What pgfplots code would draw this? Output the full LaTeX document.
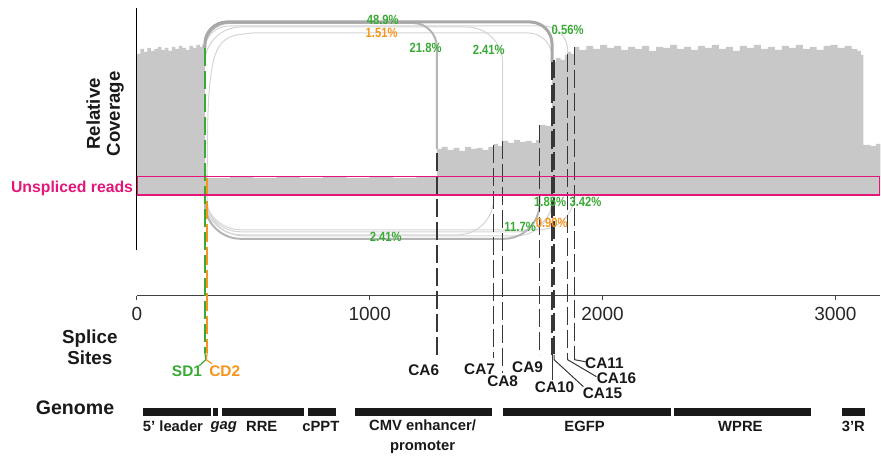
\documentclass[border=0pt]{standalone}
\usepackage{pgfplots}
\pgfplotsset{compat=1.18}
\usepackage{fontspec}
\setmainfont{Liberation Sans}
\definecolor{sdgreen}{RGB}{57,170,53}
\definecolor{cdorange}{RGB}{247,148,29}
\definecolor{pinkbox}{RGB}{228,22,122}
\definecolor{covgrey}{RGB}{200,200,200}
\definecolor{dashdark}{RGB}{55,55,55}
\definecolor{arcA}{RGB}{168,168,168}
\definecolor{arcB}{RGB}{180,180,180}
\definecolor{arcC}{RGB}{212,212,212}
\newcommand\pctf{\bfseries\fontsize{6.7}{8}\selectfont}
\newcommand\caf{\bfseries\fontsize{7.7}{9}\selectfont}
\newcommand\bigf{\bfseries\fontsize{9.3}{10}\selectfont}
\newcommand\genf{\bfseries\fontsize{7.4}{10}\selectfont}
\tikzset{lbl/.style={inner sep=0pt}, pct/.style={inner sep=0pt, xscale=0.84, font=\pctf}}
\begin{document}
\begin{tikzpicture}
\begin{axis}[
  scale only axis, width=372pt, height=148pt,
  xmin=0, xmax=3193, ymin=-101, ymax=195,
  axis x line=bottom, axis y line=none,
  axis line style={-, line width=0.7pt, black!75},
  xtick={0,1000,2000,3000}, ytick=\empty,
  tick align=outside, major tick length=2pt,
  tick style={black!75, line width=0.6pt},
  xticklabel style={font=\fontsize{9.5}{10}\selectfont, black!85},
  /pgf/number format/1000 sep={},
  /pgf/number format/assume math mode=true,
  clip=false,
]
\path (axis cs:-588,195) rectangle (axis cs:3193,-261);
% coverage
\addplot[const plot, fill=covgrey, draw=none] coordinates {
(0,0) (0,141) (15,146) (30,143) (45,147) (60,144) (75,146) (90,148) (105,145)
(120,147) (135,144) (150,148) (165,146) (180,149) (195,147) (210,145) (225,149)
(240,147) (255,150) (270,148) (280,150) (292,20)
(302,17) (400,18) (500,17) (600,18) (700,17) (800,18) (900,17) (1000,18) (1100,17) (1200,18)
(1288,46) (1310,48) (1335,45) (1360,47) (1385,44) (1410,48) (1435,46) (1460,47) (1485,45) (1510,48)
(1532,51) (1550,49)
(1571,54) (1595,52) (1620,55) (1645,53) (1670,54) (1695,52) (1715,55)
(1730,70) (1755,69)
(1783,133) (1800,137) (1820,135) (1838,140)
(1850,143) (1865,141) (1880,148) (1900,145) (1930,149) (1960,146) (1990,150) (2020,147)
(2050,149) (2080,145) (2110,148) (2140,146) (2170,149) (2200,144) (2230,148) (2260,147)
(2290,150) (2320,146) (2350,148) (2380,145) (2410,149) (2440,147) (2470,150) (2500,146)
(2530,148) (2560,144) (2590,149) (2620,147) (2650,150) (2680,146) (2710,148) (2740,145)
(2770,149) (2800,147) (2830,150) (2860,146) (2890,148) (2920,145) (2950,149) (2980,150)
(3010,147) (3040,149) (3070,146) (3095,144) (3110,140)
(3120,50) (3150,49) (3175,51) (3193,51) (3193,0)} -- cycle;
% upper arcs
\addplot[arcC, line width=0.5pt, rounded corners=12pt] coordinates {(292,147) (292,169) (1850,169) (1850,140)};
\addplot[arcC, line width=0.5pt, rounded corners=18pt] coordinates {(292,147) (292,168) (1571,168) (1571,54)};
\addplot[arcC, line width=0.5pt, smooth, tension=0.6] coordinates {(302,18) (305,80) (318,120) (345,145) (400,158) (500,162)};
\addplot[arcC, line width=0.5pt, rounded corners=12pt] coordinates {(500,162) (1783,162) (1783,133)};
\addplot[arcB, line width=1pt, rounded corners=12pt] coordinates {(292,147) (292,172) (1288,172) (1288,46)};
\addplot[arcA, line width=1.5pt, rounded corners=11pt] coordinates {(292,147) (292,173) (1783,173) (1783,133)};
% lower arcs
\addplot[arcC, line width=0.5pt, rounded corners=18pt] coordinates {(292,0) (292,-40) (1532,-40) (1532,0)};
\addplot[arcC, line width=0.5pt, rounded corners=18pt] coordinates {(302,0) (302,-41) (1783,-41) (1783,0)};
\addplot[arcC, line width=0.5pt, rounded corners=18pt] coordinates {(292,0) (292,-37) (1792,-37) (1792,0)};
\addplot[arcC, line width=0.5pt, rounded corners=18pt] coordinates {(292,0) (292,-35) (1880,-35) (1880,0)};
\addplot[arcB, line width=1pt, rounded corners=18pt] coordinates {(292,0) (292,-44) (1730,-44) (1730,0)};
% dashed splice-site lines
\pgfplotsset{dsh/.style={line width=0.75pt, dash pattern=on 9pt off 2.5pt}}
\addplot[sdgreen, dsh] coordinates {(292,147) (292,-158)};
\addplot[cdorange, dsh] coordinates {(302,17) (302,-158)};
\addplot[dashdark, dsh] coordinates {(1288,42) (1288,-160)};
\addplot[dashdark, dsh] coordinates {(1532,50) (1532,-163)};
\addplot[dashdark, dsh] coordinates {(1571,54) (1571,-178)};
\addplot[dashdark, dsh] coordinates {(1730,70) (1730,-160)};
\addplot[dashdark, dsh] coordinates {(1783,133) (1783,-160)};
\addplot[dashdark, dsh] coordinates {(1792,135) (1792,-160)};
\addplot[dashdark, dsh] coordinates {(1850,141) (1850,-163)};
\addplot[dashdark, dsh] coordinates {(1880,148) (1880,-163)};
% leader lines to labels
\addplot[sdgreen, line width=0.6pt] coordinates {(292,-158) (296,-165) (268,-171)};
\addplot[cdorange, line width=0.6pt] coordinates {(302,-158) (298,-165) (322,-169)};
\addplot[dashdark, line width=0.5pt] coordinates {(1783,-160) (1783,-185)};
\addplot[dashdark, line width=0.5pt] coordinates {(1792,-160) (1792,-165) (1918,-192)};
\addplot[dashdark, line width=0.5pt] coordinates {(1850,-163) (1850,-165) (1974,-182)};
\addplot[dashdark, line width=0.5pt] coordinates {(1880,-163) (1880,-165) (1927,-167)};
% unspliced box
\addplot[pinkbox, line width=0.8pt] coordinates {(0,18.5) (3189,18.5) (3189,0) (0,0)} -- cycle;
% genome bars
\pgfplotsset{gb/.style={black!90, line width=4pt}}
\addplot[gb] coordinates {(26,-217) (318,-217)};
\addplot[gb] coordinates {(326,-217) (348,-217)};
\addplot[gb] coordinates {(365,-217) (717,-217)};
\addplot[gb] coordinates {(734,-217) (854,-217)};
\addplot[gb] coordinates {(936,-217) (1524,-217)};
\addplot[gb] coordinates {(1571,-217) (2296,-217)};
\addplot[gb] coordinates {(2305,-217) (2897,-217)};
\addplot[gb] coordinates {(3030,-217) (3129,-217)};
% y axis line
\draw[black, line width=0.6pt] (axis cs:0,187) -- (axis cs:0,-55);
% percent labels
\node[pct, sdgreen] at (axis cs:1056,175) {48.9\%};
\node[pct, cdorange] at (axis cs:1051,162) {1.51\%};
\node[pct, sdgreen] at (axis cs:1240,147) {21.8\%};
\node[pct, sdgreen] at (axis cs:1511,145) {2.41\%};
\node[pct, sdgreen] at (axis cs:1850,165) {0.56\%};
\node[pct, sdgreen] at (axis cs:1069,-42) {2.41\%};
\node[pct, sdgreen] at (axis cs:1646,-32) {11.7\%};
\node[pct, sdgreen] at (axis cs:1775,-7) {1.85\%};
\node[pct, cdorange] at (axis cs:1782,-28) {0.90\%};
\node[pct, sdgreen] at (axis cs:1927,-7) {3.42\%};
% splice site labels
\node[lbl, sdgreen, font=\caf] at (axis cs:215,-176) {SD1};
\node[lbl, cdorange, font=\caf] at (axis cs:377,-176) {CD2};
\node[lbl, black!90, font=\caf] at (axis cs:1232,-175) {CA6};
\node[lbl, black!90, font=\caf] at (axis cs:1472,-174) {CA7};
\node[lbl, black!90, font=\caf] at (axis cs:1571,-187) {CA8};
\node[lbl, black!90, font=\caf] at (axis cs:1678,-172) {CA9};
\node[lbl, black!90, font=\caf] at (axis cs:1794,-193) {CA10};
\node[lbl, black!90, font=\caf] at (axis cs:2000,-199) {CA15};
\node[lbl, black!90, font=\caf] at (axis cs:2060,-184) {CA16};
\node[lbl, black!90, font=\caf] at (axis cs:2008,-168) {CA11};
% genome labels
\node[lbl, black!90, font=\genf] at (axis cs:155,-232) {5’ leader};
\node[lbl, black!90, font=\genf] at (axis cs:373,-232) {\itshape gag};
\node[lbl, black!90, font=\genf] at (axis cs:536,-232) {RRE};
\node[lbl, black!90, font=\genf] at (axis cs:790,-232) {cPPT};
\node[lbl, black!90, font=\genf, align=center] at (axis cs:1227,-242) {CMV enhancer/\\promoter};
\node[lbl, black!90, font=\genf] at (axis cs:1923,-232) {EGFP};
\node[lbl, black!90, font=\genf] at (axis cs:2592,-232) {WPRE};
\node[lbl, black!90, font=\genf] at (axis cs:3077,-232) {3’R};
% side labels
\node[lbl, black!90, font=\bigf, align=center, rotate=90] at (axis cs:-137,81) {Relative\\Coverage};
\node[lbl, pinkbox, font=\bfseries\fontsize{7.9}{10}\selectfont, anchor=base east] at (axis cs:-15,2) {Unspliced reads};
\node[lbl, black!90, font=\bfseries\fontsize{9.4}{10.5}\selectfont, align=center] at (axis cs:-202,-153) {Splice\\Sites};
\node[lbl, black!90, font=\bfseries\fontsize{9.8}{10}\selectfont] at (axis cs:-266,-213) {Genome};
\end{axis}
\end{tikzpicture}
\end{document}
